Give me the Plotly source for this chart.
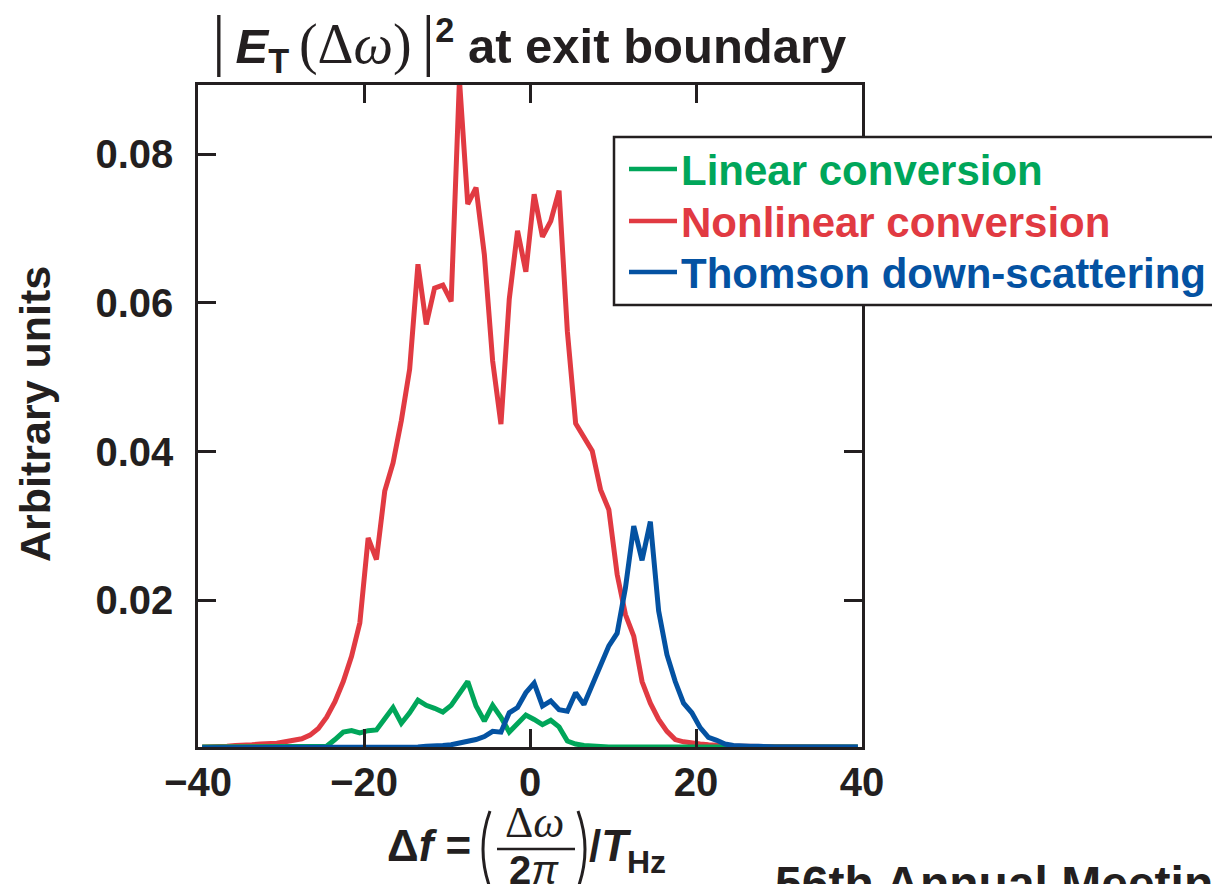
import plotly.graph_objects as go

# ---------------- data ----------------
x_vals = [i + 0.5 for i in range(-40, 40)]  # -39.5 ... 39.5

red_vals = [
    0.0003, 0.0003, 0.0004, 0.0004, 0.0005, 0.0005, 0.0006, 0.0007, 0.0007, 0.0008,   # -39.5..-30.5
    0.0010, 0.0012, 0.0014, 0.0019, 0.0028, 0.0043, 0.0064, 0.0091, 0.0125, 0.0170,   # -29.5..-20.5
    0.0284, 0.0255, 0.0347, 0.0385, 0.0442, 0.0511, 0.0652, 0.0571, 0.0620, 0.0624,   # -19.5..-10.5
    0.0602, 0.0900, 0.0733, 0.0755, 0.0665, 0.0522, 0.0437, 0.0605, 0.0697, 0.0642,   # -9.5..-0.5
    0.0746, 0.0689, 0.0710, 0.0751, 0.0562, 0.0438, 0.0419, 0.0401, 0.0349, 0.0322,   # 0.5..9.5
    0.0235, 0.0181, 0.0152, 0.0091, 0.0062, 0.0040, 0.0024, 0.0013, 0.0010, 0.0008,   # 10.5..19.5
    0.0007, 0.0006, 0.0005, 0.0005, 0.0004, 0.0004, 0.0004, 0.0004, 0.0004, 0.0004,   # 20.5..29.5
    0.0003, 0.0003, 0.0003, 0.0003, 0.0003, 0.0003, 0.0003, 0.0003, 0.0003, 0.0003,   # 30.5..39.5
]

green_vals = [
    0.0003, 0.0003, 0.0003, 0.0003, 0.0003, 0.0003, 0.0003, 0.0003, 0.0003, 0.0003,
    0.0003, 0.0003, 0.0003, 0.0003, 0.0003, 0.0004, 0.0013, 0.0023, 0.0025, 0.0022,
    0.0025, 0.0026, 0.0041, 0.0056, 0.0035, 0.0049, 0.0066, 0.0059, 0.0055, 0.0050,
    0.0059, 0.0074, 0.0091, 0.0058, 0.0038, 0.0059, 0.0043, 0.0023, 0.0035, 0.0046,
    0.0040, 0.0033, 0.0039, 0.0030, 0.0011, 0.0007, 0.0005, 0.0004, 0.0003, 0.0003,
    0.0003, 0.0003, 0.0003, 0.0003, 0.0003, 0.0003, 0.0003, 0.0003, 0.0003, 0.0003,
    0.0003, 0.0003, 0.0003, 0.0003, 0.0003, 0.0003, 0.0003, 0.0003, 0.0003, 0.0003,
    0.0003, 0.0003, 0.0003, 0.0003, 0.0003, 0.0003, 0.0003, 0.0003, 0.0003, 0.0003,
]

blue_vals = [
    0.0002, 0.0002, 0.0002, 0.0002, 0.0002, 0.0002, 0.0002, 0.0002, 0.0002, 0.0002,
    0.0002, 0.0002, 0.0002, 0.0002, 0.0002, 0.0002, 0.0002, 0.0002, 0.0002, 0.0002,
    0.0002, 0.0002, 0.0002, 0.0003, 0.0003, 0.0003, 0.0003, 0.0004, 0.0004, 0.0005,
    0.0006, 0.0008, 0.0011, 0.0013, 0.0017, 0.0024, 0.0023, 0.0049, 0.0056, 0.0076,
    0.0089, 0.0058, 0.0065, 0.0053, 0.0051, 0.0076, 0.0060, 0.0085, 0.0112, 0.0139,
    0.0156, 0.0217, 0.0300, 0.0254, 0.0306, 0.0186, 0.0127, 0.0091, 0.0062, 0.0049,
    0.0029, 0.0016, 0.0012, 0.0007, 0.0005, 0.0004, 0.0004, 0.0004, 0.0003, 0.0003,
    0.0003, 0.0003, 0.0003, 0.0003, 0.0003, 0.0003, 0.0003, 0.0003, 0.0003, 0.0003,
]

series_names = ["Linear conversion", "Nonlinear conversion", "Thomson down-scattering"]
series_colors = ["#00a65a", "#e13a42", "#0452a2"]
series_data = [green_vals, red_vals, blue_vals]

x_ticks = [-40, -20, 0, 20, 40]
y_ticks = [0.02, 0.04, 0.06, 0.08]
y_ticktext = ["0.02", "0.04", "0.06", "0.08"]

# ---------------- layout geometry (pixels) ----------------
W, H = 1212, 884
L, R, T, B = 198, 862, 85, 747
INK = "#231f20"
FONT = "Liberation Sans, Arial, Helvetica, sans-serif"
SERIF = "Liberation Serif, Times New Roman, serif"
THIN = "\u2009"


def px(xp):
    return (xp - L) / (R - L)


def py(yp):
    return (B - yp) / (B - T)


fig = go.Figure()
# draw order: nonlinear (red), linear (green), Thomson (blue)
for idx in [1, 0, 2]:
    fig.add_trace(go.Scatter(
        x=x_vals, y=series_data[idx], mode="lines", name=series_names[idx],
        line=dict(color=series_colors[idx], width=5), showlegend=False,
    ))

axis_common = dict(
    showline=True, linewidth=2.5, linecolor=INK, mirror="ticks",
    ticks="inside", ticklen=18, tickwidth=2.5, tickcolor=INK,
    showgrid=False, zeroline=False,
    tickfont=dict(family=FONT, size=40, color=INK, weight="bold"),
)

fig.update_layout(
    width=W, height=H,
    margin=dict(l=L, r=W - R, t=T, b=H - B),
    paper_bgcolor="white", plot_bgcolor="white",
    xaxis=dict(range=[-40, 40], tickvals=x_ticks, ticklabelstandoff=-2, **axis_common),
    yaxis=dict(range=[0.0003, 0.0893], tickvals=y_ticks, ticktext=y_ticktext,
               ticklabelstandoff=14, **axis_common),
    font=dict(family=FONT, color=INK),
)

annotations = []
shapes = []

# Title
bar = "<span style=\"font-family:'Liberation Serif';font-weight:normal;font-size:68px\">|</span>"
annotations.append(dict(
    x=px(529), y=py(41), xref="paper", yref="paper", xanchor="center", yanchor="middle",
    showarrow=False,
    text=(bar + THIN + "<b><i>E</i></b><b><sub>T</sub></b>" + THIN +
          "<span style=\"font-family:'Liberation Serif';font-weight:normal;font-size:56px\">(Δ<i>ω</i>)</span>"
          + THIN + bar +
          "<b><sup>2</sup> at exit boundary</b>"),
    font=dict(family=FONT, size=49, color=INK),
))

# Y axis title
annotations.append(dict(
    x=px(35), y=py(414), xref="paper", yref="paper", xanchor="center", yanchor="middle",
    showarrow=False, textangle=-90, text="<b>Arbitrary units</b>",
    font=dict(family=FONT, size=43, color=INK),
))

# X axis title built as a fraction
annotations.append(dict(
    x=px(473), y=py(845), xref="paper", yref="paper", xanchor="right", yanchor="middle",
    showarrow=False, text="<b>Δ<i>f</i> =</b>", font=dict(family=FONT, size=44, color=INK),
))
annotations.append(dict(
    x=px(534), y=py(822), xref="paper", yref="paper", xanchor="center", yanchor="middle",
    showarrow=False, text="Δ<i>ω</i>", font=dict(family=SERIF, size=44, color=INK),
))
annotations.append(dict(
    x=px(534), y=py(870), xref="paper", yref="paper", xanchor="center", yanchor="middle",
    showarrow=False, text="<b>2</b><i>π</i>", font=dict(family=FONT, size=40, color=INK),
))
shapes.append(dict(type="line", xref="paper", yref="paper",
                   x0=px(497), x1=px(575), y0=py(849), y1=py(849),
                   line=dict(color=INK, width=2.5)))
# parentheses drawn as thin curves
for xs, xc in [(490, 476), (578, 592)]:
    shapes.append(dict(
        type="path", xref="paper", yref="paper",
        path=f"M {px(xs)},{py(811)} Q {px(xc)},{py(849)} {px(xs)},{py(888)}",
        line=dict(color=INK, width=3),
    ))
annotations.append(dict(
    x=px(587), y=py(845), xref="paper", yref="paper", xanchor="left", yanchor="middle",
    showarrow=False, text="<b>/<i>T</i></b>", font=dict(family=FONT, size=44, color=INK),
))
annotations.append(dict(
    x=px(625), y=py(862), xref="paper", yref="paper", xanchor="left", yanchor="middle",
    showarrow=False, text="<b>Hz</b>", font=dict(family=FONT, size=32, color=INK),
))

# Footer text (cut at the page bottom)
annotations.append(dict(
    x=px(773), y=py(855), xref="paper", yref="paper", xanchor="left", yanchor="top",
    showarrow=False, text="<b>56th Annual Meeting</b>", font=dict(family=FONT, size=48, color=INK),
))

# Legend box (extends past the right page edge)
shapes.append(dict(type="rect", xref="paper", yref="paper",
                   x0=px(614), x1=px(1240), y0=py(305), y1=py(137),
                   line=dict(color=INK, width=2.5), fillcolor="white", layer="above"))
legend_rows_y = [169, 221, 272]
for name, color, yy in zip(series_names, series_colors, legend_rows_y):
    shapes.append(dict(type="line", xref="paper", yref="paper",
                       x0=px(629), x1=px(677), y0=py(yy), y1=py(yy),
                       line=dict(color=color, width=4.5), layer="above"))
    annotations.append(dict(
        x=px(679), y=py(yy + 1), xref="paper", yref="paper", xanchor="left", yanchor="middle",
        showarrow=False, text=f"<b>{name}</b>", font=dict(family=FONT, size=42, color=color),
    ))

fig.update_layout(annotations=annotations, shapes=shapes)
fig.write_html("out.html")
